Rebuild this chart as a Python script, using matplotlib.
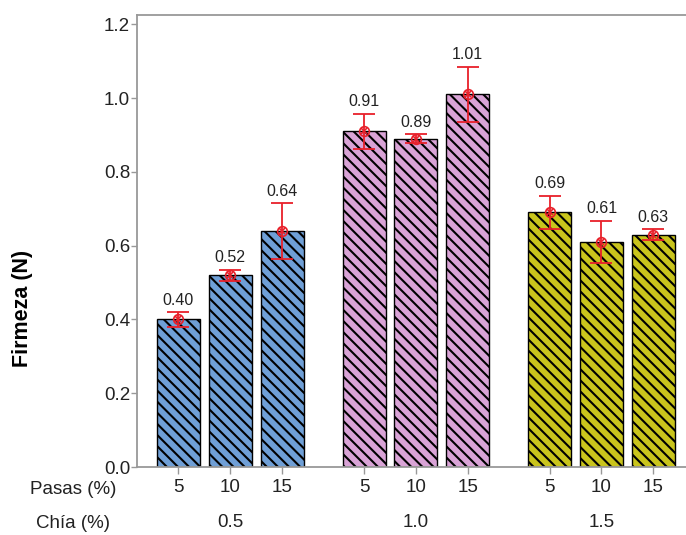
import matplotlib
matplotlib.use("Agg")
import matplotlib.pyplot as plt
import numpy as np

plt.rcParams["font.family"] = ["Liberation Sans", "DejaVu Sans"]
plt.rcParams["hatch.linewidth"] = 1.5
plt.rcParams["hatch.color"] = "#1a1a2a"

# Firmness means and error half-widths, three chia levels x three raisin levels
chia_levels = ["0.5", "1.0", "1.5"]
pasas_levels = ["5", "10", "15"]
firmeza = [0.40, 0.52, 0.64, 0.91, 0.89, 1.01, 0.69, 0.61, 0.63]
error = [0.020, 0.015, 0.075, 0.048, 0.012, 0.075, 0.045, 0.058, 0.015]
group_colors = ["#6f9fd6", "#d9a3d6", "#c9c41c"]

group_step = 3.58
pos = np.array([g * group_step + i for g in range(3) for i in range(3)])
colors = [group_colors[g] for g in range(3) for _ in range(3)]

fig = plt.figure(figsize=(6.86, 5.35), dpi=100)
ax = fig.add_axes([137 / 686, 1 - 467 / 535, 1 - 137 / 686, (467 - 15) / 535])

ax.bar(pos, firmeza, width=0.83, color=colors, edgecolor="black",
       linewidth=1.0, hatch="\\\\\\", zorder=2)

red = "#e8202a"
ax.errorbar(pos, firmeza, yerr=error, fmt="none", ecolor=red,
            elinewidth=1.3, capsize=8, capthick=1.3, zorder=3)
ax.plot(pos, firmeza, "o", ms=7, mfc="none", mec=red, mew=1.2, zorder=4)
ax.plot(pos, firmeza, "x", ms=5, mec=red, mew=1.2, zorder=4)

for x, v, e in zip(pos, firmeza, error):
    ax.text(x, v + e + 0.012, f"{v:.2f}", ha="center", va="bottom",
            fontsize=11.5, color="#222222")

ax.set_xlim(-0.8, pos[-1] + 0.63)
ax.set_ylim(0, 1.225)
ax.set_yticks(np.arange(0, 1.21, 0.2))
ax.set_yticklabels([f"{t:.1f}" for t in np.arange(0, 1.21, 0.2)])
ax.set_xticks(pos)
ax.set_xticklabels(pasas_levels * 3)

ax.tick_params(axis="y", labelsize=13.5, colors="#999999", labelcolor="#222222",
               length=4, width=1, pad=1)
ax.tick_params(axis="x", labelsize=13.5, colors="#999999", labelcolor="#222222",
               length=5, width=1, pad=4)

for side in ["top", "left", "bottom"]:
    ax.spines[side].set_color("#999999")
    ax.spines[side].set_linewidth(1.3)
ax.spines["right"].set_visible(False)

ax.set_ylabel("Firmeza (N)", fontsize=15.5, fontweight="bold", va="center")
ax.yaxis.set_label_coords(-0.209, 0.35)

# Second row of category labels: chia level under each group
for g, lab in enumerate(chia_levels):
    ax.annotate(lab, xy=(pos[g * 3 + 1], 0), xycoords=("data", "axes fraction"),
                xytext=(0, -40), textcoords="offset points", ha="center",
                va="center", fontsize=13.5, color="#222222")

fig.text(73 / 686, 1 - 490 / 535, "Pasas (%)", ha="center", va="center",
         fontsize=13.5, color="#222222")
fig.text(73 / 686, 1 - 523 / 535, "Chía (%)", ha="center", va="center",
         fontsize=13.5, color="#222222")

fig.savefig("out.png", dpi=100)
